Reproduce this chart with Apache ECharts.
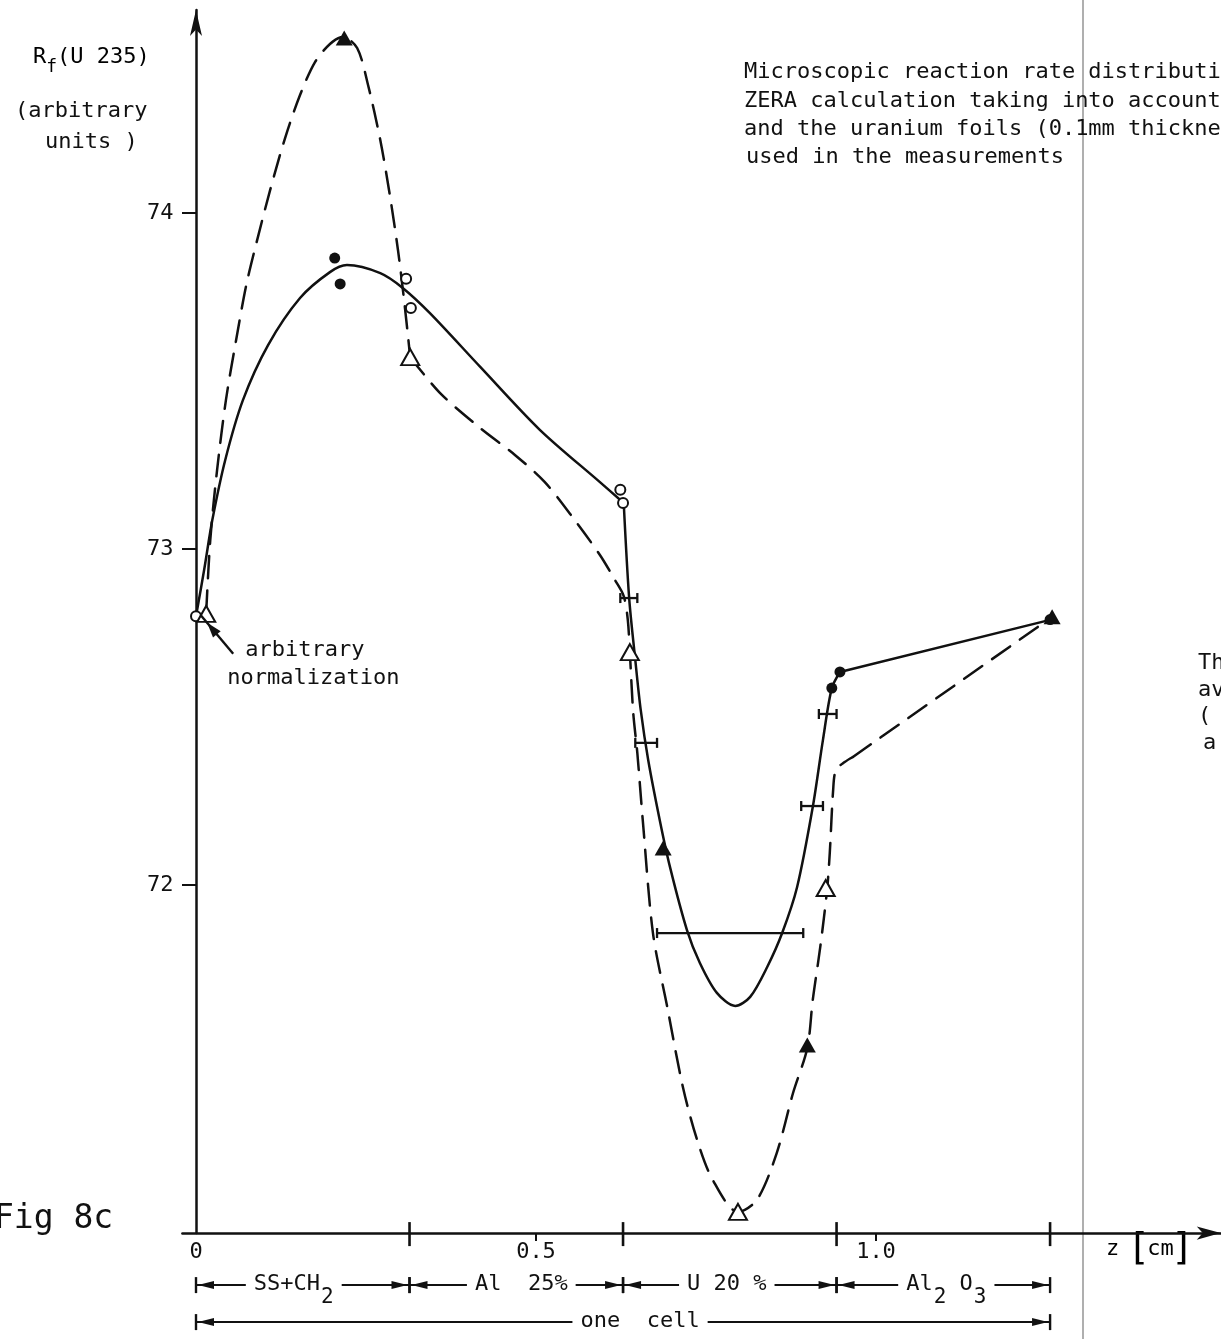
<!DOCTYPE html>
<html>
<head>
<meta charset="utf-8">
<script src="https://cdn.jsdelivr.net/npm/echarts@6/dist/echarts.min.js"></script>
<style>
  html, body { margin: 0; padding: 0; background: #fff; }
  #chart { width: 1221px; height: 1339px; }
</style>
</head>
<body>
<div id="chart"></div>
<script>
// Fission rate of U235 across one lattice cell (z in cm)

// Solid curve, split where the curve has a sharp corner
const solidA = [[0, 72.80], [0.012, 72.938], [0.024, 73.086], [0.043, 73.265], [0.069, 73.443],
  [0.106, 73.607], [0.153, 73.747], [0.197, 73.824], [0.222, 73.845], [0.271, 73.821],
  [0.304, 73.777], [0.344, 73.702], [0.418, 73.542], [0.506, 73.354], [0.594, 73.199], [0.629, 73.137]];
const solidB = [[0.629, 73.137], [0.637, 72.854], [0.646, 72.670], [0.654, 72.521], [0.665, 72.372],
  [0.682, 72.193], [0.697, 72.054], [0.722, 71.866], [0.741, 71.768], [0.766, 71.679],
  [0.793, 71.640], [0.815, 71.667], [0.840, 71.756], [0.862, 71.857], [0.884, 71.994],
  [0.907, 72.232], [0.922, 72.432], [0.935, 72.586], [0.947, 72.634]];
const solidC = [[0.947, 72.634], [1.256, 72.789]];

// Dashed curve (calculation)
const dashedA = [[0.015, 72.812], [0.021, 73.027], [0.031, 73.235], [0.044, 73.443], [0.059, 73.622],
  [0.074, 73.786], [0.090, 73.920], [0.109, 74.068], [0.131, 74.223], [0.153, 74.351],
  [0.175, 74.449], [0.197, 74.503], [0.216, 74.524], [0.237, 74.491], [0.253, 74.381],
  [0.271, 74.217], [0.285, 74.054], [0.297, 73.890], [0.306, 73.741], [0.315, 73.571]];
const dashedB = [[0.315, 73.571], [0.359, 73.464], [0.418, 73.360], [0.469, 73.280], [0.513, 73.199],
  [0.557, 73.086], [0.594, 72.982], [0.616, 72.908], [0.629, 72.860], [0.635, 72.789],
  [0.638, 72.693], [0.643, 72.512], [0.649, 72.393], [0.657, 72.193], [0.672, 71.857],
  [0.693, 71.637], [0.716, 71.399], [0.737, 71.241], [0.760, 71.122], [0.797, 71.027],
  [0.825, 71.063], [0.854, 71.202], [0.878, 71.381], [0.899, 71.515], [0.907, 71.658],
  [0.918, 71.815], [0.928, 71.985], [0.932, 72.095], [0.937, 72.283], [0.941, 72.342],
  [0.954, 72.366], [0.966, 72.381]];
const dashedC = [[0.966, 72.381], [1.259, 72.798]];

// Measured and calculated points
const openCircles = [[0, 72.80], [0.309, 73.804], [0.316, 73.717], [0.624, 73.176], [0.628, 73.137]];
const filledDots = [[0.204, 73.866], [0.212, 73.789], [0.935, 72.586], [0.947, 72.634], [1.256, 72.790]];
const openTriangles = [[0.015, 72.807], [0.315, 73.571], [0.638, 72.693], [0.797, 71.027], [0.926, 71.991]];
const filledTriangles = [[0.218, 74.521], [0.687, 72.110], [0.899, 71.524], [1.259, 72.798]];

// Horizontal position bars: [from, to, rate]
const positionBars = [[0.624, 0.649, 72.854], [0.646, 0.678, 72.423], [0.890, 0.922, 72.235],
  [0.916, 0.942, 72.509], [0.678, 0.893, 71.857]];

// Cell structure along z
const zoneStarts = [0, 0.314, 0.628, 0.942, 0];
const zoneEnds = [0.314, 0.628, 0.942, 1.256, 1.256];
const zoneNames = ['{n|SS+CH}{s|2}', '{n|Al  25%}', '{n|U 20 %}', '{n|Al}{s|2}{n| O}{s|3}', '{n|one  cell}'];
const zoneRows = [0, 0, 0, 0, 1];
const cellBoundaries = [0.314, 0.628, 0.942, 1.256];

const xLabelValues = [0, 0.5, 1.0];
const xMinorTicks = [0.5, 1.0];
const yTickValues = [72, 73, 74];

// Plot frame: z = 0 at 196px with 680px per cm; rate 74 at 213px with 336px per unit
const ORIGIN_X = 196, PX_PER_CM = 680, Y74_PX = 213, PX_PER_UNIT = 336;
const Z_MIN = -0.02, Z_MAX = 1.507;
const R_MIN = 70.964, R_MAX = 74.604;
const ROW_OFFSETS = [52, 89];
const LABEL_SHIFT = [-9, 5, -3, 3, 17];

const FONT = '"DejaVu Sans Mono", "DejaVu Sans", monospace';
const INK = '#111';

const chart = echarts.init(document.getElementById('chart'), null, { renderer: 'canvas' });

function lineSeries(data, dashed) {
  return {
    type: 'line', data, showSymbol: false, smooth: 0.3, silent: true, z: 3,
    lineStyle: { color: INK, width: 2.5, type: dashed ? [22, 12] : 'solid', cap: 'round' }
  };
}
function pointSeries(data, symbol, size) {
  return {
    type: 'scatter', data, symbol, symbolSize: size, z: 5, silent: true,
    itemStyle: { color: INK, borderColor: INK, opacity: 1, borderWidth: symbol.indexOf('empty') === 0 ? 2.2 : 0 }
  };
}
function arrowHead(tipX, tipY, dir, len, half) {
  return { type: 'polygon', shape: { points: [[tipX, tipY], [tipX - dir * len, tipY - half], [tipX - dir * len, tipY + half]] },
    style: { fill: INK } };
}

const richStyles = {
  n: { fontFamily: FONT, fontSize: 22, lineHeight: 24, verticalAlign: 'top', color: INK },
  s: { fontFamily: FONT, fontSize: 21, lineHeight: 24, verticalAlign: 'top', color: INK, padding: [14, 0, 0, 1] }
};

function textEl(text, left, top, size) {
  return { type: 'text', left, top, style: { text, font: (size || 22) + 'px ' + FONT, fill: INK } };
}

const option = {
  animation: false,
  backgroundColor: '#fff',
  grid: {
    left: ORIGIN_X + Z_MIN * PX_PER_CM,
    width: (Z_MAX - Z_MIN) * PX_PER_CM,
    top: Y74_PX - (R_MAX - 74) * PX_PER_UNIT,
    height: (R_MAX - R_MIN) * PX_PER_UNIT
  },
  xAxis: {
    type: 'value', min: Z_MIN, max: Z_MAX,
    axisLine: { onZero: false, symbol: ['none', 'arrow'], symbolSize: [10, 24], lineStyle: { color: INK, width: 2.5 } },
    axisTick: { customValues: xMinorTicks, length: 8, lineStyle: { color: INK, width: 2 } },
    axisLabel: {
      customValues: xLabelValues, margin: 8, color: INK, fontFamily: FONT, fontSize: 22,
      formatter: v => (v === 0 ? '0' : v.toFixed(1))
    },
    splitLine: { show: false }
  },
  yAxis: {
    type: 'value', min: R_MIN, max: R_MAX,
    axisLine: { onZero: true, symbol: ['none', 'arrow'], symbolSize: [9, 26], lineStyle: { color: INK, width: 2.5 } },
    axisTick: { customValues: yTickValues, length: 14, lineStyle: { color: INK, width: 2 } },
    axisLabel: { customValues: yTickValues, margin: 9, color: INK, fontFamily: FONT, fontSize: 22 },
    splitLine: { show: false }
  },
  series: [
    lineSeries(solidA, false), lineSeries(solidB, false), lineSeries(solidC, false),
    lineSeries(dashedA, true), lineSeries(dashedB, true), lineSeries(dashedC, true),
    pointSeries(openCircles, 'emptyCircle', 10),
    pointSeries(filledDots, 'circle', 11),
    pointSeries(openTriangles, 'emptyTriangle', [18, 16]),
    pointSeries(filledTriangles, 'triangle', [17, 15]),
    {
      // horizontal bars with end caps
      type: 'custom', data: positionBars, clip: false, silent: true, z: 4,
      renderItem: (params, api) => {
        const p0 = api.coord([api.value(0), api.value(2)]);
        const p1 = api.coord([api.value(1), api.value(2)]);
        const st = { stroke: INK, lineWidth: 2.3 };
        return { type: 'group', children: [
          { type: 'line', shape: { x1: p0[0], y1: p0[1], x2: p1[0], y2: p1[1] }, style: st },
          { type: 'line', shape: { x1: p0[0], y1: p0[1] - 5, x2: p0[0], y2: p0[1] + 5 }, style: st },
          { type: 'line', shape: { x1: p1[0], y1: p1[1] - 5, x2: p1[0], y2: p1[1] + 5 }, style: st }
        ] };
      }
    },
    {
      // boundary ticks crossing the z axis
      type: 'custom', data: cellBoundaries.map(b => [b, R_MIN]), clip: false, silent: true, z: 4,
      renderItem: (params, api) => {
        const p = api.coord([api.value(0), R_MIN]);
        return { type: 'line', shape: { x1: p[0], y1: p[1] - 11, x2: p[0], y2: p[1] + 13 },
          style: { stroke: INK, lineWidth: 2.6 } };
      }
    },
    {
      // zone arrows and names below the axis
      type: 'custom', clip: false, silent: true, z: 4,
      data: zoneStarts.map((s, i) => [s, R_MIN, zoneEnds[i], i]),
      renderItem: (params, api) => {
        const i = api.value(3);
        const a = api.coord([api.value(0), R_MIN]);
        const b = api.coord([api.value(2), R_MIN]);
        const y = a[1] + ROW_OFFSETS[zoneRows[i]];
        const st = { stroke: INK, lineWidth: 2 };
        return { type: 'group', children: [
          { type: 'line', shape: { x1: a[0], y1: y, x2: b[0], y2: y }, style: st },
          { type: 'line', shape: { x1: a[0], y1: y - 8, x2: a[0], y2: y + 8 }, style: { stroke: INK, lineWidth: 2.4 } },
          { type: 'line', shape: { x1: b[0], y1: y - 8, x2: b[0], y2: y + 8 }, style: { stroke: INK, lineWidth: 2.4 } },
          arrowHead(a[0] + 2, y, -1, 16, 4),
          arrowHead(b[0] - 2, y, 1, 16, 4),
          { type: 'text', x: (a[0] + b[0]) / 2 + LABEL_SHIFT[i], y: y - 12,
            style: { text: zoneNames[i], rich: richStyles, align: 'center', verticalAlign: 'top',
              backgroundColor: '#fff', padding: [0, 8], font: '22px ' + FONT, fill: INK } }
        ] };
      }
    },
    {
      // note on the normalisation point
      type: 'custom', clip: false, silent: true, z: 6,
      data: [openTriangles[0]],
      renderItem: (params, api) => {
        const p = api.coord([api.value(0), api.value(1)]);
        const tip = [p[0] + 1, p[1] + 9], tail = [p[0] + 27, p[1] + 40];
        const ang = Math.atan2(tip[1] - tail[1], tip[0] - tail[0]);
        const head = arrowHead(0, 0, 1, 15, 5);
        head.x = tip[0]; head.y = tip[1]; head.rotation = -ang;
        return { type: 'group', children: [
          { type: 'line', shape: { x1: tail[0], y1: tail[1], x2: tip[0] + 10 * Math.cos(ang), y2: tip[1] + 10 * Math.sin(ang) },
            style: { stroke: INK, lineWidth: 2.4 } },
          head,
          { type: 'text', x: p[0] + 39, y: p[1] + 36, style: { text: 'arbitrary', font: '22px ' + FONT, fill: INK, verticalAlign: 'middle' } },
          { type: 'text', x: p[0] + 21, y: p[1] + 64, style: { text: 'normalization', font: '22px ' + FONT, fill: INK, verticalAlign: 'middle' } }
        ] };
      }
    }
  ],
  graphic: [
    { type: 'line', shape: { x1: 1083, y1: 0, x2: 1083, y2: 1339 }, style: { stroke: '#7a7a7a', lineWidth: 1.2 }, z: 0 },
    { type: 'text', left: 33, top: 46, style: { text: '{n|R}{f|f}{n|(U 235)}', rich: {
        n: { fontFamily: FONT, fontSize: 22, lineHeight: 26, verticalAlign: 'top', color: INK },
        f: { fontFamily: FONT, fontSize: 18, lineHeight: 20, verticalAlign: 'top', color: INK, padding: [12, 0, 0, 0] } } } },
    textEl('(arbitrary', 15, 100),
    textEl('units )', 45, 131),
    textEl('Microscopic reaction rate distribution', 744, 61),
    textEl('ZERA calculation taking into account', 744, 90),
    textEl('and the uranium foils (0.1mm thickness)', 744, 118),
    textEl('used in the measurements', 746, 146),
    textEl('Th', 1198, 652),
    textEl('av', 1198, 679),
    textEl('(', 1198, 705),
    textEl('a', 1203, 732),
    { type: 'text', left: -6, top: 1203, style: { text: 'Fig 8c', font: '33px ' + FONT, fill: INK } },
    { type: 'text', left: 1106, top: 1230, style: { text: '{t|z }{b|[}{t|cm}{b|]}', rich: {
        t: { fontFamily: FONT, fontSize: 22, lineHeight: 44, color: INK },
        b: { fontFamily: '"DejaVu Sans", sans-serif', fontSize: 38, lineHeight: 44, color: INK } } } }
  ]
};

chart.setOption(option);
</script>
</body>
</html>
